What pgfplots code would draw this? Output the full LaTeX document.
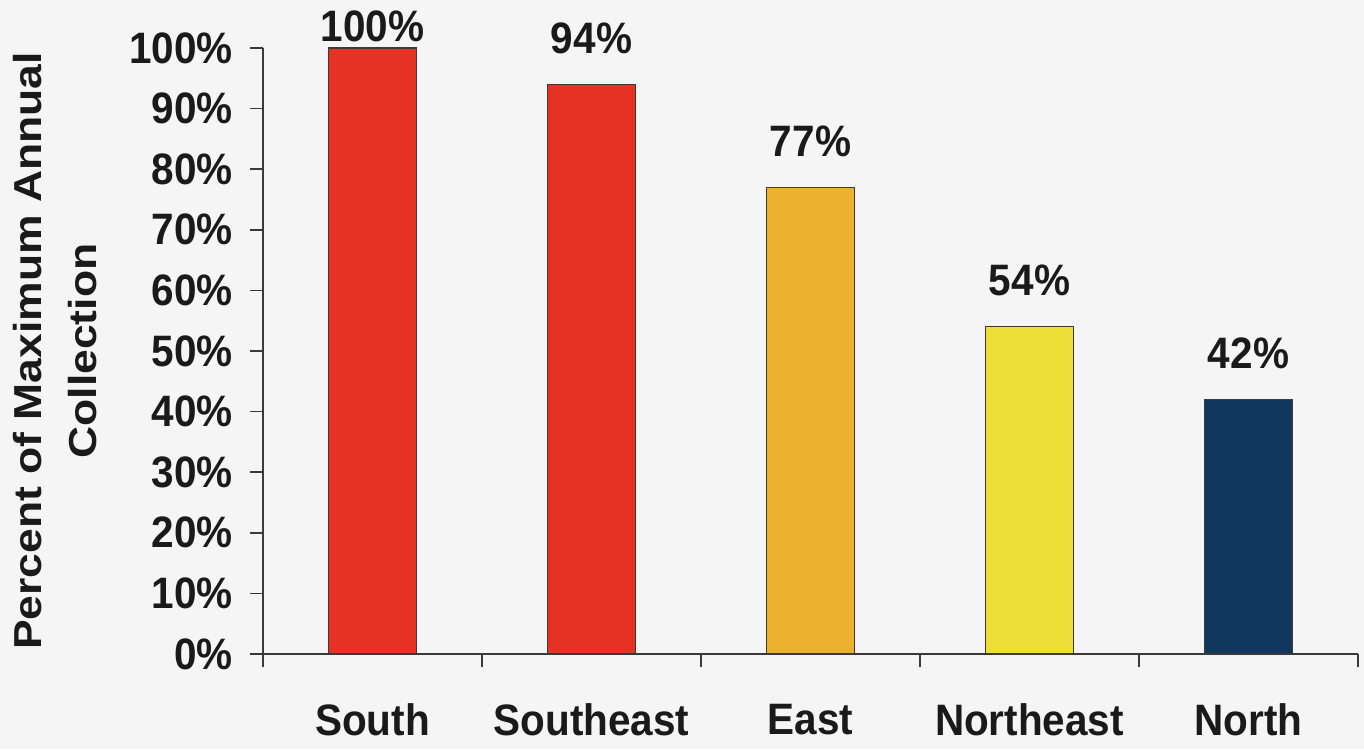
\documentclass[border=0pt]{standalone}
\usepackage{fontspec}
\setmainfont{Liberation Sans}[FakeStretch=0.92]
\newfontfamily\ylfont{Liberation Sans}[FakeStretch=1.14]
\usepackage{pgfplots}
\pgfplotsset{compat=1.18}
\definecolor{bgcol}{HTML}{F5F5F5}
\definecolor{cRed}{HTML}{E63125}
\definecolor{cOrange}{HTML}{ECB12E}
\definecolor{cYellow}{HTML}{EEDE38}
\definecolor{cNavy}{HTML}{12375E}
\definecolor{txt}{HTML}{1A1A1A}
\definecolor{axc}{HTML}{3A3A3A}
\newcommand\bigf{\fontsize{22}{22.5}\selectfont\bfseries}
\newcommand\ylf{\ylfont\fontsize{19.5}{27.5}\selectfont\bfseries}
\begin{document}
\begin{tikzpicture}
\fill[bgcol] (-131.5pt,-47.5pt) rectangle (550.5pt,327pt);
\begin{axis}[
  scale only axis, width=547.5pt, height=303pt,
  xmin=-0.5, xmax=4.5, ymin=0, ymax=100,
  axis x line*=bottom, axis y line*=left,
  axis line style={axc, line width=0.8pt},
  clip=false,
  /pgf/number format/assume math mode=true,
  ytick={0,10,...,100},
  yticklabel={\pgfmathprintnumber{\tick}\%},
  y tick label style={font=\bigf, text=txt, anchor=east, inner sep=0pt, xshift=-8.5pt},
  tick align=outside,
  major tick length=6.5pt,
  tick style={axc, line width=0.8pt},
  xtick={-0.5,0.5,...,4.5},
  xticklabels={,,,,,},
  extra x ticks={0,1,2,3,4},
  extra x tick labels={South,Southeast,East,Northeast,North},
  extra x tick style={major tick length=0pt, tick label style={font=\bigf, text=txt, anchor=center, inner sep=0pt, yshift=-33pt}},
  ylabel={Percent of Maximum Annual\\Collection},
  ylabel style={at={(axis description cs:-0.19,0.5)}, anchor=center, align=center, font=\ylf, text=txt},
  ybar, bar width=44pt, bar shift=0pt,
  every axis plot/.append style={draw=axc, line width=0.6pt},
  nodes near coords={\pgfmathprintnumber{\pgfplotspointmeta}\%},
  nodes near coords style={font=\bigf, text=txt, anchor=south, inner sep=0pt, yshift=15pt},
]
\addplot[fill=cRed, nodes near coords style={yshift=-12.5pt}] coordinates {(0,100)};
\addplot[fill=cRed] coordinates {(1,94)};
\addplot[fill=cOrange] coordinates {(2,77)};
\addplot[fill=cYellow] coordinates {(3,54)};
\addplot[fill=cNavy] coordinates {(4,42)};
\end{axis}
\pgfresetboundingbox
\path[use as bounding box] (-131.5pt,-47.5pt) rectangle (550.5pt,327pt);
\end{tikzpicture}
\end{document}
